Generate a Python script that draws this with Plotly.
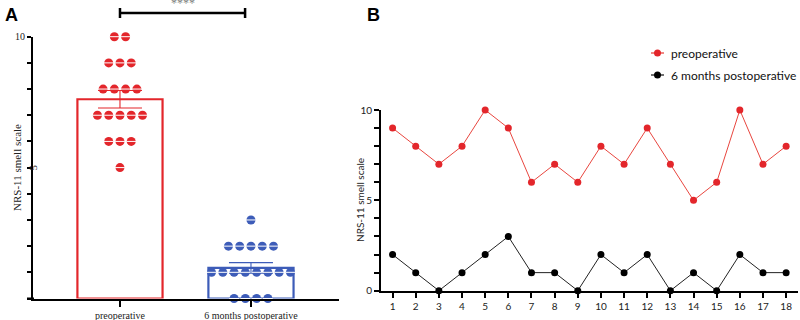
import numpy as np
import plotly.graph_objects as go
from collections import Counter

# ---------------- data ----------------
patients = list(range(1, 19))
preoperative = [9, 8, 7, 8, 10, 9, 6, 7, 6, 8, 7, 9, 7, 5, 6, 10, 7, 8]
postoperative = [2, 1, 0, 1, 2, 3, 1, 1, 0, 2, 1, 2, 0, 1, 0, 2, 1, 1]
groups = ["preoperative", "6 months postoperative"]
series_names = ["preoperative", "6 months postoperative"]
significance = "****"

RED = "#e3262b"
RED_LINE = "#e8463f"
BLUE = "#3d5cb8"
W, H = 800, 320


def px_x(p):
    return p / W


def px_y(p):
    return 1 - p / H


def swarm(values, center, step):
    counts = Counter(values)
    seen = {}
    xs, ys = [], []
    for v in sorted(values):
        n = counts[v]
        i = seen.get(v, 0)
        seen[v] = i + 1
        xs.append(center + (i - (n - 1) / 2) * step)
        ys.append(v)
    return xs, ys


means = [float(np.mean(preoperative)), float(np.mean(postoperative))]
sems = [float(np.std(preoperative, ddof=1) / np.sqrt(len(preoperative))),
        float(np.std(postoperative, ddof=1) / np.sqrt(len(postoperative)))]

fig = go.Figure()

# ---------------- panel A ----------------
colors = [RED, BLUE]
for gi, (g, c) in enumerate(zip(groups, colors)):
    fig.add_trace(go.Bar(
        x=[gi], y=[means[gi]], width=0.65,
        marker=dict(color="rgba(255,255,255,0)", line=dict(color=c, width=2.2)),
        error_y=dict(type="data", array=[sems[gi]], visible=True,
                     color=c, thickness=1.1, width=22),
        xaxis="x", yaxis="y", showlegend=False, hoverinfo="skip"))

for gi, (vals, c) in enumerate(zip([preoperative, postoperative], colors)):
    xs, ys = swarm(vals, gi, 0.086)
    fig.add_trace(go.Scatter(
        x=xs, y=ys, mode="markers",
        marker=dict(symbol="circle", size=9, color=c, line=dict(width=0)),
        xaxis="x", yaxis="y", showlegend=False, cliponaxis=False))
    fig.add_trace(go.Scatter(
        x=xs, y=ys, mode="markers",
        marker=dict(symbol="line-ew", size=7, color="white",
                    line=dict(width=1, color="white")),
        xaxis="x", yaxis="y", showlegend=False, cliponaxis=False, hoverinfo="skip"))

# ---------------- panel B ----------------
fig.add_trace(go.Scatter(
    x=patients, y=preoperative, mode="lines+markers", name=series_names[0],
    line=dict(color=RED_LINE, width=1),
    marker=dict(color=RED, size=7),
    xaxis="x2", yaxis="y2", cliponaxis=False, showlegend=False))
fig.add_trace(go.Scatter(
    x=patients, y=postoperative, mode="lines+markers", name=series_names[1],
    line=dict(color="#222222", width=1),
    marker=dict(color="black", size=7),
    xaxis="x2", yaxis="y2", cliponaxis=False, showlegend=False))

serif = "Liberation Serif, Times New Roman, serif"
sans = "Lato, Open Sans, sans-serif"

axis_common = dict(showgrid=False, zeroline=False, showline=True,
                   linecolor="black", linewidth=2, ticks="outside",
                   tickcolor="black", tickwidth=2, automargin=False)

fig.update_layout(
    width=W, height=H,
    margin=dict(l=0, r=0, t=0, b=0, autoexpand=False),
    paper_bgcolor="white", plot_bgcolor="white",
    barmode="overlay",
    showlegend=False,
    xaxis=dict(domain=[px_x(33), px_x(339)], range=[-0.664, 1.672],
               tickvals=[0, 1], ticktext=groups, ticklen=6,
               tickfont=dict(family=serif, size=10, color="#222"),
               anchor="y", **axis_common),
    yaxis=dict(domain=[px_y(298.5), px_y(36.7)], range=[0, 10],
               tickvals=list(range(0, 11)),
               ticktext=[""] * 10 + ["10"], ticklen=4,
               tickfont=dict(family=serif, size=10, color="#222"),
               anchor="x", **axis_common),
    xaxis2=dict(domain=[px_x(381), px_x(797.7)], range=[0.5, 18.5],
                tickvals=patients, ticklen=5,
                tickfont=dict(family=sans, size=10, color="#222"),
                anchor="y2", **axis_common),
    yaxis2=dict(domain=[px_y(290.7), px_y(110)], range=[0, 10],
                tickvals=list(range(0, 11)),
                ticktext=["0", "", "", "", "", "5", "", "", "", "", "10"],
                ticklen=5,
                tickfont=dict(family=sans, size=10, color="#222"),
                anchor="x2", **axis_common),
)

annotations = [
    dict(text="<b>A</b>", x=px_x(3), y=px_y(3), xref="paper", yref="paper",
         xanchor="left", yanchor="top", showarrow=False,
         font=dict(family="Liberation Sans, Arial", size=18, color="black")),
    dict(text="<b>B</b>", x=px_x(365), y=px_y(3), xref="paper", yref="paper",
         xanchor="left", yanchor="top", showarrow=False,
         font=dict(family="Liberation Sans, Arial", size=18, color="black")),
    dict(text="NRS-11 smell scale", x=px_x(9), y=px_y(168), xref="paper", yref="paper",
         textangle=-90, showarrow=False,
         font=dict(family=serif, size=11, color="#222")),
    dict(text="5", x=px_x(25), y=5, xref="paper", yref="y",
         textangle=-90, showarrow=False,
         font=dict(family=serif, size=11, color="#222")),
    dict(text="NRS-11 smell scale", x=px_x(360), y=px_y(200), xref="paper", yref="paper",
         textangle=-90, showarrow=False,
         font=dict(family=sans, size=10, color="#222")),
    dict(text=significance, x=0.48, y=px_y(3), xref="x", yref="paper",
         showarrow=False, yanchor="middle",
         font=dict(family=serif, size=12, color="#808080")),
]

shapes = [
    dict(type="line", xref="x", yref="paper", x0=0, x1=0.955,
         y0=px_y(13), y1=px_y(13), line=dict(color="black", width=2.5)),
    dict(type="line", xref="x", yref="paper", x0=0, x1=0,
         y0=px_y(8), y1=px_y(18), line=dict(color="black", width=2.5)),
    dict(type="line", xref="x", yref="paper", x0=0.955, x1=0.955,
         y0=px_y(8), y1=px_y(18), line=dict(color="black", width=2.5)),
    # x-axis line extension left of the y axis in panel A
    dict(type="line", xref="paper", yref="paper", x0=px_x(27), x1=px_x(34),
         y0=px_y(298.5), y1=px_y(298.5), line=dict(color="black", width=2)),
]

# manual legend
legend_items = [(series_names[0], RED_LINE, RED, 53), (series_names[1], "#222222", "black", 75)]
for name, lc, mc, yy in legend_items:
    shapes.append(dict(type="line", xref="paper", yref="paper",
                       x0=px_x(651), x1=px_x(664), y0=px_y(yy), y1=px_y(yy),
                       line=dict(color=lc, width=1.3)))
    shapes.append(dict(type="circle", xref="paper", yref="paper",
                       x0=px_x(654), x1=px_x(661), y0=px_y(yy - 3.5), y1=px_y(yy + 3.5),
                       fillcolor=mc, line=dict(color=mc, width=0)))
    annotations.append(dict(text=name, x=px_x(669), y=px_y(yy), xref="paper", yref="paper",
                            xanchor="left", yanchor="middle", showarrow=False,
                            font=dict(family=sans, size=12, color="#111")))

fig.update_layout(annotations=annotations, shapes=shapes)

fig.write_html("out.html", config={"displayModeBar": False},
               post_script="document.body.style.margin='0';document.body.style.overflow='hidden';")
